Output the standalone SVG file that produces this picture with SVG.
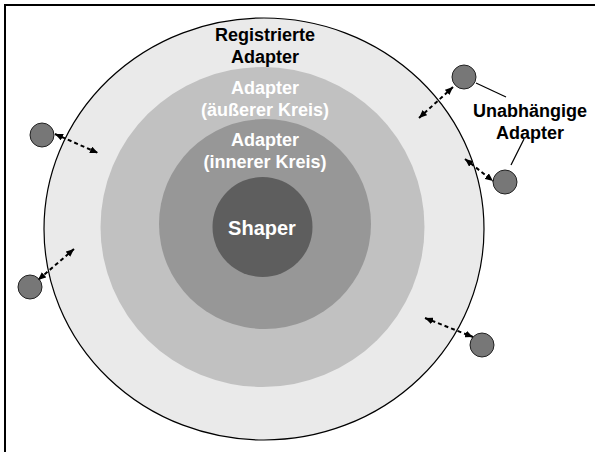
<svg xmlns="http://www.w3.org/2000/svg" width="595" height="452" viewBox="0 0 595 452">
<defs>
<style>
.lbl{font-family:"Liberation Sans",Arial,sans-serif;font-weight:bold;font-size:18px;text-anchor:middle}
.w{fill:#ffffff}
.b{fill:#000000}
.ad{fill:#777777;stroke:#222222;stroke-width:1}
.con{stroke:#000;stroke-width:2;stroke-dasharray:4,3;fill:none;marker-start:url(#ah);marker-end:url(#ah)}
.lead{stroke:#000;stroke-width:1.2;fill:none}
</style>
<marker id="ah" viewBox="0 0 8 7" refX="8" refY="3.5" markerWidth="8" markerHeight="7" markerUnits="userSpaceOnUse" orient="auto-start-reverse">
<path d="M0,0 L8,3.5 L0,7 z" fill="#000"/>
</marker>
</defs>
<rect x="0" y="0" width="595" height="452" fill="#ffffff"/>
<path d="M4,5 H595 M5,4 V452" stroke="#000" stroke-width="2" fill="none"/>

<g id="registrierte">
<ellipse cx="264" cy="229" rx="220" ry="211" fill="#eaeaea" stroke="#000" stroke-width="1.2"/>
<text class="lbl b" x="265" y="41">Registrierte</text>
<text class="lbl b" x="265" y="63">Adapter</text>
</g>
<g id="aeusserer">
<ellipse cx="262.5" cy="227" rx="162" ry="160" fill="#c1c1c1"/>
<text class="lbl w" x="265" y="94">Adapter</text>
<text class="lbl w" x="265" y="116">(äußerer Kreis)</text>
</g>
<g id="innerer">
<ellipse cx="265" cy="224" rx="106" ry="105" fill="#979797"/>
<text class="lbl w" x="265" y="146">Adapter</text>
<text class="lbl w" x="265" y="168">(innerer Kreis)</text>
</g>
<g id="shaper">
<circle cx="262.5" cy="227" r="50" fill="#5e5e5e"/>
<text class="lbl w" x="262" y="235" style="font-size:20px">Shaper</text>
</g>

<g id="adapter-oben-rechts"><circle class="ad" cx="464" cy="77" r="12"/></g>
<g id="adapter-rechts"><circle class="ad" cx="505" cy="182" r="12"/></g>
<g id="adapter-unten-rechts"><circle class="ad" cx="482" cy="345" r="12"/></g>
<g id="adapter-links-oben"><circle class="ad" cx="42" cy="135" r="12"/></g>
<g id="adapter-links-unten"><circle class="ad" cx="30" cy="287" r="12"/></g>

<g id="unabhaengige-label">
<text class="lbl b" x="530" y="117">Unabhängige</text>
<text class="lbl b" x="530" y="139">Adapter</text>
</g>

<g id="connectors">
<line class="con" x1="453" y1="87" x2="419" y2="118"/>
<line class="con" x1="465" y1="159" x2="493" y2="181"/>
<line class="con" x1="425" y1="318" x2="473" y2="337"/>
<line class="con" x1="55" y1="134" x2="98" y2="153"/>
<line class="con" x1="74" y1="249" x2="38" y2="280"/>
<line class="lead" x1="476" y1="83" x2="506" y2="97"/>
<line class="lead" x1="511" y1="165" x2="524" y2="139"/>
</g>
</svg>
